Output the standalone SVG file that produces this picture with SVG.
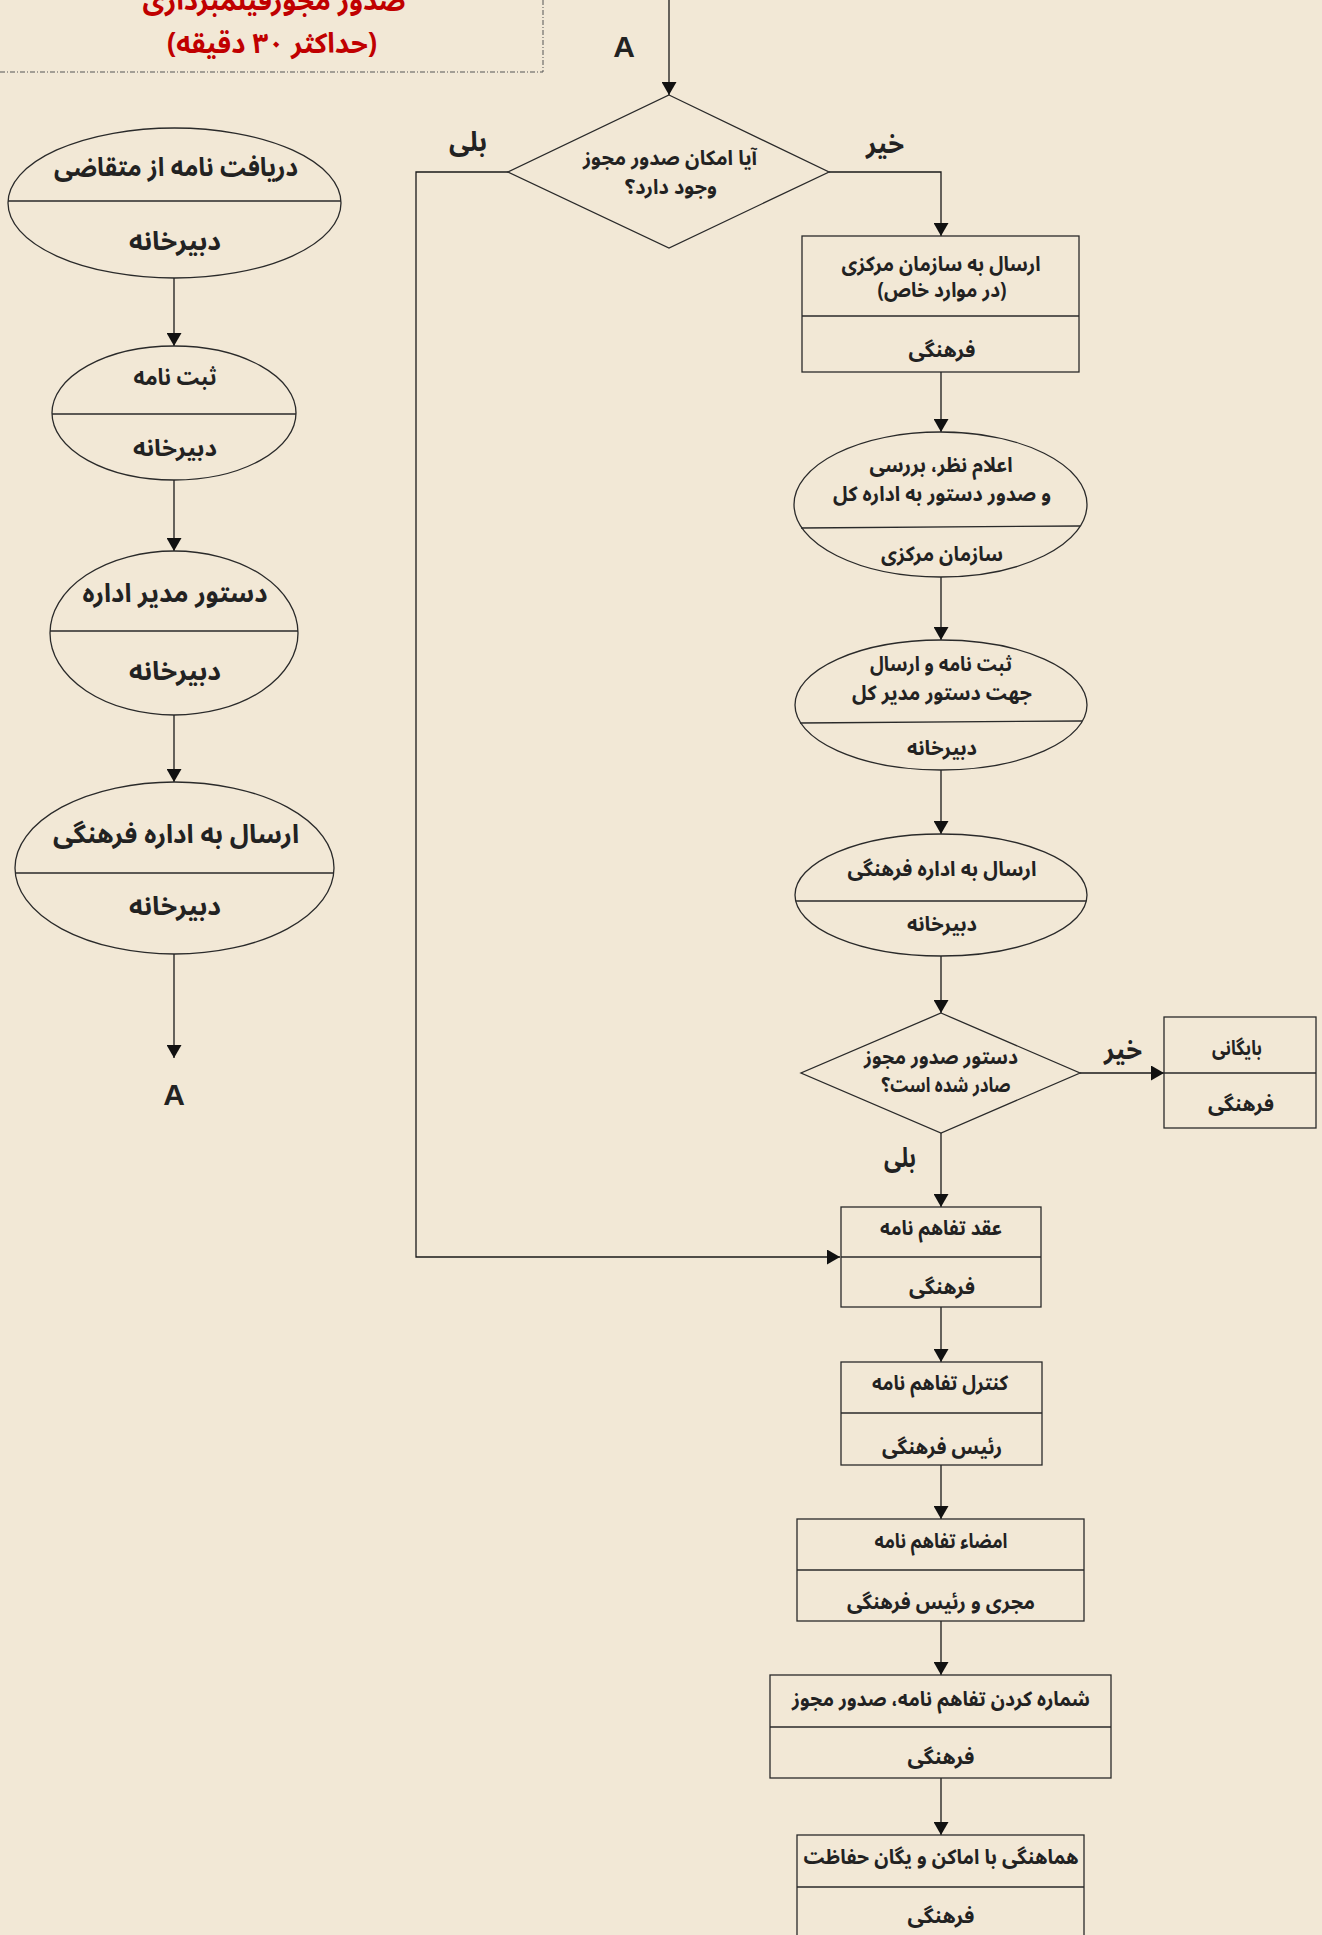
<svg xmlns="http://www.w3.org/2000/svg" width="1322" height="1935" viewBox="0 0 1322 1935">
<style>
.bg{fill:#f2e8d6}
.shape{fill:none;stroke:#2a2a2a;stroke-width:1.3}
.div{stroke:#2a2a2a;stroke-width:1.3}
.con{fill:none;stroke:#1a1a1a;stroke-width:1.3}
.t{font-family:"Noto Sans Arabic","Noto Naskh Arabic","DejaVu Sans",sans-serif;font-weight:bold;fill:#222;text-anchor:middle;direction:rtl;unicode-bidi:embed}
.big{font-size:26px}
.med{font-size:23px}
.sm{font-size:20.5px}
.lbl{font-size:27px}
.title{font-family:"Noto Sans Arabic","Noto Naskh Arabic","DejaVu Sans",sans-serif;font-weight:bold;font-size:28px;fill:#c00000;text-anchor:middle;direction:rtl;unicode-bidi:embed}
.A{font-family:"Liberation Sans",Arial,sans-serif;font-weight:bold;font-size:30px;fill:#222;text-anchor:middle}
.frame{fill:none;stroke:#555;stroke-width:1;stroke-dasharray:5 2 1 2}
</style>
<defs>
<marker id="arr" markerUnits="userSpaceOnUse" markerWidth="15" markerHeight="15" refX="13" refY="7.5" orient="auto">
<path d="M0,0 L13,7.5 L0,15 z" fill="#111"/>
</marker>
</defs>
<rect class="bg" x="0" y="0" width="1322" height="1935"/>

<g id="title">
<path class="frame" d="M0,72 H543 V0"/>
<text class="title" x="274" y="10" textLength="263" lengthAdjust="spacingAndGlyphs">صدور مجوزفیلمبرداری</text>
<text class="title" x="272" y="53" textLength="210" lengthAdjust="spacingAndGlyphs">(حداکثر ۳۰ دقیقه)</text>
</g>

<g id="connectors">
<line class="con" x1="174" y1="278" x2="174" y2="346" marker-end="url(#arr)"/>
<line class="con" x1="174" y1="480" x2="174" y2="551" marker-end="url(#arr)"/>
<line class="con" x1="174" y1="715" x2="174" y2="782" marker-end="url(#arr)"/>
<line class="con" x1="174" y1="954" x2="174" y2="1058" marker-end="url(#arr)"/>
<line class="con" x1="669" y1="0" x2="669" y2="95" marker-end="url(#arr)"/>
<polyline class="con" points="508,172 416,172 416,1257 840,1257" marker-end="url(#arr)"/>
<polyline class="con" points="829,172 941,172 941,236" marker-end="url(#arr)"/>
<line class="con" x1="941" y1="372" x2="941" y2="432" marker-end="url(#arr)"/>
<line class="con" x1="941" y1="577" x2="941" y2="640" marker-end="url(#arr)"/>
<line class="con" x1="941" y1="770" x2="941" y2="834" marker-end="url(#arr)"/>
<line class="con" x1="941" y1="956" x2="941" y2="1013" marker-end="url(#arr)"/>
<line class="con" x1="1080" y1="1073" x2="1164" y2="1073" marker-end="url(#arr)"/>
<line class="con" x1="941" y1="1133" x2="941" y2="1207" marker-end="url(#arr)"/>
<line class="con" x1="941" y1="1307" x2="941" y2="1362" marker-end="url(#arr)"/>
<line class="con" x1="941" y1="1465" x2="941" y2="1519" marker-end="url(#arr)"/>
<line class="con" x1="941" y1="1621" x2="941" y2="1675" marker-end="url(#arr)"/>
<line class="con" x1="941" y1="1778" x2="941" y2="1835" marker-end="url(#arr)"/>
<text class="t lbl" x="468" y="151" textLength="38" lengthAdjust="spacingAndGlyphs">بلی</text>
<text class="t lbl" x="885" y="153" textLength="38" lengthAdjust="spacingAndGlyphs">خیر</text>
<text class="t lbl" x="1123" y="1059" textLength="38" lengthAdjust="spacingAndGlyphs">خیر</text>
<text class="t lbl" x="900" y="1167" textLength="32" lengthAdjust="spacingAndGlyphs">بلی</text>
</g>

<g id="labelA-top"><text class="A" x="624" y="57">A</text></g>
<g id="labelA-bottom"><text class="A" x="174" y="1105">A</text></g>

<g id="n1">
<ellipse class="shape" cx="174.5" cy="203" rx="166.5" ry="75"/>
<line class="div" x1="8" y1="201" x2="341" y2="201"/>
<text class="t big" x="176" y="176" textLength="244" lengthAdjust="spacingAndGlyphs">دریافت نامه از متقاضی</text>
<text class="t big" x="175" y="250" textLength="92" lengthAdjust="spacingAndGlyphs">دبیرخانه</text>
</g>
<g id="n2">
<ellipse class="shape" cx="174" cy="413" rx="122" ry="67"/>
<line class="div" x1="52" y1="414" x2="296" y2="414"/>
<text class="t med" x="175" y="385" textLength="83" lengthAdjust="spacingAndGlyphs">ثبت نامه</text>
<text class="t med" x="175" y="456" textLength="84" lengthAdjust="spacingAndGlyphs">دبیرخانه</text>
</g>
<g id="n3">
<ellipse class="shape" cx="174" cy="633" rx="124" ry="82"/>
<line class="div" x1="50" y1="631" x2="298" y2="631"/>
<text class="t big" x="175" y="602" textLength="185" lengthAdjust="spacingAndGlyphs">دستور مدیر اداره</text>
<text class="t big" x="175" y="680" textLength="92" lengthAdjust="spacingAndGlyphs">دبیرخانه</text>
</g>
<g id="n4">
<ellipse class="shape" cx="174.5" cy="868" rx="159.5" ry="86"/>
<line class="div" x1="15" y1="873" x2="334" y2="873"/>
<text class="t big" x="176" y="843" textLength="246" lengthAdjust="spacingAndGlyphs">ارسال به اداره فرهنگی</text>
<text class="t big" x="175" y="915" textLength="92" lengthAdjust="spacingAndGlyphs">دبیرخانه</text>
</g>

<g id="d1">
<polygon class="shape" points="669,95 829,172 669,248 508,172"/>
<text class="t sm" x="670" y="165" textLength="174" lengthAdjust="spacingAndGlyphs">آیا امکان صدور مجوز</text>
<text class="t sm" x="671" y="194" textLength="92" lengthAdjust="spacingAndGlyphs">وجود دارد؟</text>
</g>
<g id="n5">
<rect class="shape" x="802" y="236" width="277" height="136"/>
<line class="div" x1="802" y1="316" x2="1079" y2="316"/>
<text class="t sm" x="941" y="271" textLength="199" lengthAdjust="spacingAndGlyphs">ارسال به سازمان مرکزی</text>
<text class="t sm" x="942" y="297" textLength="129" lengthAdjust="spacingAndGlyphs">(در موارد خاص)</text>
<text class="t sm" x="942" y="357" textLength="67" lengthAdjust="spacingAndGlyphs">فرهنگی</text>
</g>
<g id="n6">
<ellipse class="shape" cx="940.5" cy="504.5" rx="146.5" ry="72.5"/>
<line class="div" x1="801" y1="528" x2="1080" y2="526"/>
<text class="t sm" x="941" y="472" textLength="143" lengthAdjust="spacingAndGlyphs">اعلام نظر، بررسی</text>
<text class="t sm" x="942" y="501" textLength="218" lengthAdjust="spacingAndGlyphs">و صدور دستور به اداره کل</text>
<text class="t sm" x="942" y="561" textLength="122" lengthAdjust="spacingAndGlyphs">سازمان مرکزی</text>
</g>
<g id="n7">
<ellipse class="shape" cx="941" cy="705" rx="146" ry="65"/>
<line class="div" x1="800" y1="723" x2="1082" y2="721"/>
<text class="t sm" x="941" y="671" textLength="142" lengthAdjust="spacingAndGlyphs">ثبت نامه و ارسال</text>
<text class="t sm" x="942" y="700" textLength="180" lengthAdjust="spacingAndGlyphs">جهت دستور مدیر کل</text>
<text class="t sm" x="942" y="755" textLength="70" lengthAdjust="spacingAndGlyphs">دبیرخانه</text>
</g>
<g id="n8">
<ellipse class="shape" cx="941" cy="895" rx="146" ry="61"/>
<line class="div" x1="796" y1="901" x2="1086" y2="901"/>
<text class="t sm" x="942" y="876" textLength="189" lengthAdjust="spacingAndGlyphs">ارسال به اداره فرهنگی</text>
<text class="t sm" x="942" y="931" textLength="70" lengthAdjust="spacingAndGlyphs">دبیرخانه</text>
</g>
<g id="d2">
<polygon class="shape" points="941,1013 1080,1073 941,1133 801,1073"/>
<text class="t sm" x="941" y="1064" textLength="154" lengthAdjust="spacingAndGlyphs">دستور صدور مجوز</text>
<text class="t sm" x="946" y="1092" textLength="129" lengthAdjust="spacingAndGlyphs">صادر شده است؟</text>
</g>
<g id="n9">
<rect class="shape" x="1164" y="1017" width="152" height="111"/>
<line class="div" x1="1164" y1="1073" x2="1316" y2="1073"/>
<text class="t sm" x="1237" y="1055" textLength="50" lengthAdjust="spacingAndGlyphs">بایگانی</text>
<text class="t sm" x="1241" y="1111" textLength="66" lengthAdjust="spacingAndGlyphs">فرهنگی</text>
</g>
<g id="n10">
<rect class="shape" x="841" y="1207" width="200" height="100"/>
<line class="div" x1="841" y1="1257" x2="1041" y2="1257"/>
<text class="t sm" x="941" y="1235" textLength="122" lengthAdjust="spacingAndGlyphs">عقد تفاهم نامه</text>
<text class="t sm" x="942" y="1294" textLength="66" lengthAdjust="spacingAndGlyphs">فرهنگی</text>
</g>
<g id="n11">
<rect class="shape" x="841" y="1362" width="201" height="103"/>
<line class="div" x1="841" y1="1413" x2="1042" y2="1413"/>
<text class="t sm" x="940" y="1390" textLength="136" lengthAdjust="spacingAndGlyphs">کنترل تفاهم نامه</text>
<text class="t sm" x="942" y="1454" textLength="120" lengthAdjust="spacingAndGlyphs">رئیس فرهنگی</text>
</g>
<g id="n12">
<rect class="shape" x="797" y="1519" width="287" height="102"/>
<line class="div" x1="797" y1="1570" x2="1084" y2="1570"/>
<text class="t sm" x="941" y="1548" textLength="133" lengthAdjust="spacingAndGlyphs">امضاء تفاهم نامه</text>
<text class="t sm" x="941" y="1609" textLength="188" lengthAdjust="spacingAndGlyphs">مجری و رئیس فرهنگی</text>
</g>
<g id="n13">
<rect class="shape" x="770" y="1675" width="341" height="103"/>
<line class="div" x1="770" y1="1727" x2="1111" y2="1727"/>
<text class="t sm" x="941" y="1706" textLength="298" lengthAdjust="spacingAndGlyphs">شماره کردن تفاهم نامه، صدور مجوز</text>
<text class="t sm" x="941" y="1764" textLength="67" lengthAdjust="spacingAndGlyphs">فرهنگی</text>
</g>
<g id="n14">
<rect class="shape" x="797" y="1835" width="287" height="130"/>
<line class="div" x1="797" y1="1887" x2="1084" y2="1887"/>
<text class="t sm" x="941" y="1864" textLength="275" lengthAdjust="spacingAndGlyphs">هماهنگی با اماکن و یگان حفاظت</text>
<text class="t sm" x="941" y="1923" textLength="67" lengthAdjust="spacingAndGlyphs">فرهنگی</text>
</g>
</svg>
